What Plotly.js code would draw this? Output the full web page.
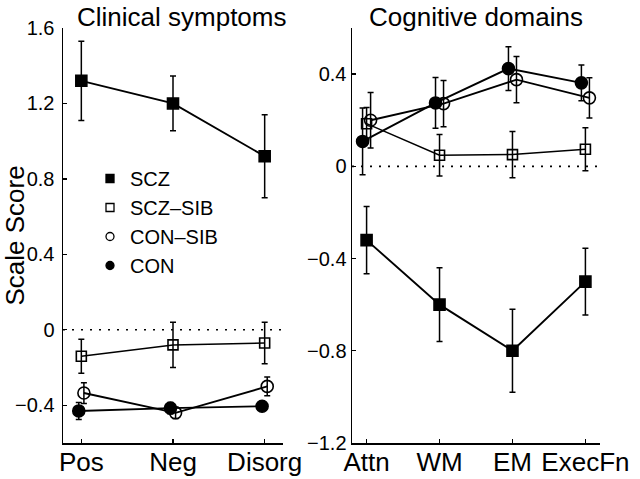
<!DOCTYPE html>
<html>
<head>
<meta charset="utf-8">
<script src="https://cdn.plot.ly/plotly-3.0.1.min.js"></script>
<style>
  html, body { margin: 0; padding: 0; background: #fff; }
  #chart { width: 640px; height: 479px; }
</style>
</head>
<body>
<div id="chart"></div>
<script>
// Categories for each panel
const clinicalLabels = ["Pos", "Neg", "Disorg"];
const cognitiveLabels = ["Attn", "WM", "EM", "ExecFn"];

// Group names (legend order)
const groupNames = ["SCZ", "SCZ\u2013SIB", "CON\u2013SIB", "CON"];

// Clinical symptoms: means and error bar half-widths
const clinSCZ = [1.32, 1.20, 0.92];
const clinSCZErr = [0.21, 0.145, 0.22];
const clinSCZSIB = [-0.14, -0.08, -0.07];
const clinSCZSIBErr = [0.09, 0.12, 0.11];
const clinCONSIB = [-0.335, -0.44, -0.30];
const clinCONSIBErr = [0.055, 0.03, 0.05];
const clinCON = [-0.43, -0.415, -0.405];
const clinCONErr = [0.045, 0.03, 0.02];

// Cognitive domains: means and error bar half-widths
const cogSCZ = [-0.32, -0.60, -0.80, -0.50];
const cogSCZErr = [0.146, 0.16, 0.18, 0.145];
const cogSCZSIB = [0.185, 0.048, 0.051, 0.074];
const cogSCZSIBErr = [0.07, 0.09, 0.10, 0.093];
const cogCONSIB = [0.20, 0.272, 0.376, 0.297];
const cogCONSIBErr = [0.12, 0.10, 0.10, 0.087];
const cogCON = [0.108, 0.275, 0.424, 0.362];
const cogCONErr = [0.145, 0.11, 0.095, 0.077];

// Look of each group (marker symbol, size, line width, small x jitter per panel)
const styles = [
    { symbol: "square", size: 11, lw: 1.9, jitterL: 0, jitterR: 0 },
    { symbol: "square-open", size: 10, lw: 1.5, jitterL: 0, jitterR: 0 },
    { symbol: "circle-open", size: 12, lw: 1.9, jitterL: 0.028, jitterR: 0.055 },
    { symbol: "circle", size: 12, lw: 1.9, jitterL: -0.028, jitterR: -0.055 }
];

const FONT = "Liberation Sans, Arial, Helvetica, sans-serif";

function makeTrace(means, errs, idx, side) {
    const st = styles[idx];
    const jitter = side === "L" ? st.jitterL : st.jitterR;
    return {
        x: means.map((_, i) => i + 1 + jitter),
        y: means,
        xaxis: side === "L" ? "x" : "x2",
        yaxis: side === "L" ? "y" : "y2",
        type: "scatter",
        mode: "lines+markers",
        showlegend: false,
        line: { color: "black", width: st.lw },
        marker: {
            symbol: st.symbol,
            size: st.size,
            color: "black",
            line: { color: "black", width: 1.6 }
        },
        error_y: {
            type: "data",
            array: errs,
            visible: true,
            color: "black",
            thickness: 1.5,
            width: 3
        },
        hoverinfo: "skip"
    };
}

let traces = [
    makeTrace(clinSCZ, clinSCZErr, 0, "L"),
    makeTrace(clinSCZSIB, clinSCZSIBErr, 1, "L"),
    makeTrace(clinCONSIB, clinCONSIBErr, 2, "L"),
    makeTrace(clinCON, clinCONErr, 3, "L"),
    makeTrace(cogSCZ, cogSCZErr, 0, "R"),
    makeTrace(cogSCZSIB, cogSCZSIBErr, 1, "R"),
    makeTrace(cogCONSIB, cogCONSIBErr, 2, "R"),
    makeTrace(cogCON, cogCONErr, 3, "R")
];

// Legend-only entries (markers only, no line sample)
groupNames.forEach((name, i) => {
    traces.push({
        x: [null], y: [null],
        type: "scatter",
        mode: "markers",
        name: name,
        marker: {
            symbol: styles[i].symbol,
            size: 8,
            color: "black",
            line: { color: "black", width: 1.3 }
        }
    });
});

const axisBase = {
    showline: true,
    linecolor: "black",
    linewidth: 1.5,
    showgrid: false,
    zeroline: false,
    ticks: "inside",
    ticklen: 4,
    tickwidth: 1.3,
    tickcolor: "black",
    fixedrange: true
};

const layout = {
    width: 640,
    height: 479,
    margin: { l: 0, r: 0, t: 0, b: 0 },
    paper_bgcolor: "white",
    plot_bgcolor: "white",
    font: { family: FONT, color: "black" },
    showlegend: true,
    legend: {
        x: 90 / 640, xanchor: "left",
        y: 1 - 159 / 479, yanchor: "top",
        bgcolor: "rgba(0,0,0,0)",
        font: { size: 20, family: FONT },
        tracegroupgap: 0
    },
    xaxis: Object.assign({}, axisBase, {
        domain: [63 / 640, 283 / 640],
        range: [0.8, 3.2],
        tickvals: [1, 2, 3],
        ticktext: clinicalLabels,
        tickfont: { size: 26 },
        ticklabelstandoff: -5,
        anchor: "y"
    }),
    yaxis: Object.assign({}, axisBase, {
        domain: [1 - 443 / 479, 1 - 28 / 479],
        range: [-0.6, 1.6],
        tickvals: [-0.4, 0, 0.4, 0.8, 1.2, 1.6],
        ticktext: ["\u22120.4", "0", "0.4", "0.8", "1.2", "1.6"],
        tickfont: { size: 20 },
        ticklabelstandoff: 3,
        title: { text: "Scale Score", font: { size: 26 }, standoff: 4 },
        anchor: "x"
    }),
    xaxis2: Object.assign({}, axisBase, {
        domain: [352 / 640, 600 / 640],
        range: [0.8, 4.2],
        tickvals: [1, 2, 3, 4],
        ticktext: cognitiveLabels,
        tickfont: { size: 26 },
        ticklabelstandoff: -5,
        anchor: "y2"
    }),
    yaxis2: Object.assign({}, axisBase, {
        domain: [1 - 443 / 479, 1 - 28 / 479],
        range: [-1.2, 0.6],
        tickvals: [-1.2, -0.8, -0.4, 0, 0.4],
        ticktext: ["\u22121.2", "\u22120.8", "\u22120.4", "0", "0.4"],
        tickfont: { size: 20 },
        anchor: "x2"
    }),
    shapes: [
        { type: "line", xref: "x domain", yref: "y", x0: 0, x1: 1, y0: 0, y1: 0,
          line: { color: "black", width: 1.6, dash: "2px,7px" }, layer: "below" },
        { type: "line", xref: "x2 domain", yref: "y2", x0: 0, x1: 1, y0: 0, y1: 0,
          line: { color: "black", width: 1.6, dash: "2px,7px" }, layer: "below" }
    ],
    annotations: [
        { text: "Clinical symptoms", xref: "paper", yref: "paper",
          x: 182 / 640, y: 1, xanchor: "center", yanchor: "top", yshift: 0,
          showarrow: false, font: { size: 26 } },
        { text: "Cognitive domains", xref: "paper", yref: "paper",
          x: 476 / 640, y: 1, xanchor: "center", yanchor: "top", yshift: 0,
          showarrow: false, font: { size: 26 } }
    ]
};

Plotly.newPlot("chart", traces, layout, { displayModeBar: false, staticPlot: true });
</script>
</body>
</html>
